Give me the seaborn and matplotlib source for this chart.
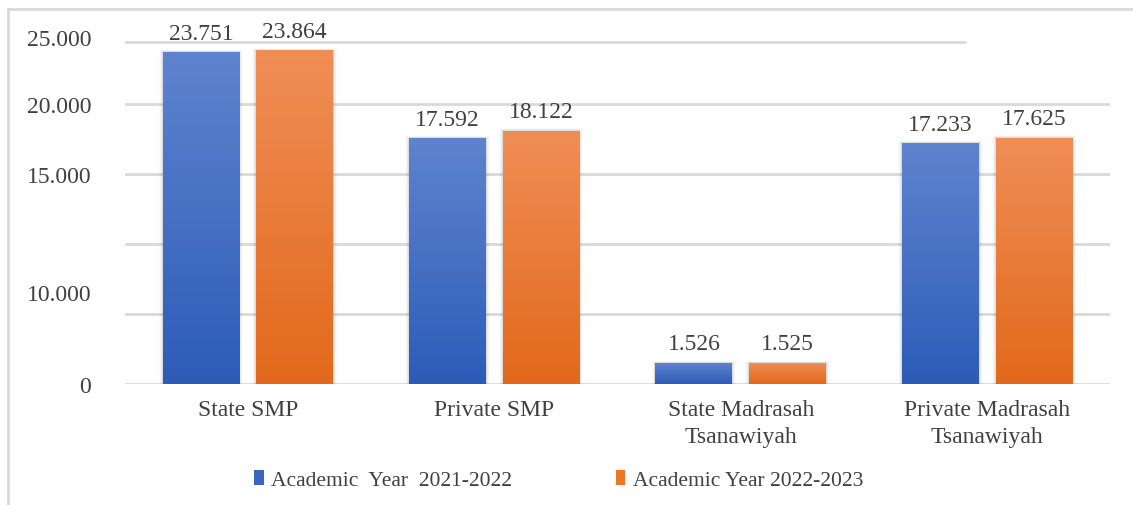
import numpy as np
import pandas as pd
import matplotlib
matplotlib.use("Agg")
import matplotlib.pyplot as plt
import seaborn as sns
from matplotlib.colors import LinearSegmentedColormap
from matplotlib.lines import Line2D
from matplotlib.patches import Patch

# data
categories = ["State SMP", "Private SMP", "State Madrasah\nTsanawiyah", "Private Madrasah\nTsanawiyah"]
series = ["Academic  Year  2021-2022", "Academic Year 2022-2023"]
year_2021 = [23751, 17592, 1526, 17233]
year_2022 = [23864, 18122, 1525, 17625]
value_labels_2021 = ["23.751", "17.592", "1.526", "17.233"]
value_labels_2022 = ["23.864", "18.122", "1.525", "17.625"]

df = pd.DataFrame({
    "category": categories * 2,
    "series": [series[0]] * 4 + [series[1]] * 4,
    "value": year_2021 + year_2022,
})

sns.set_theme(style="white")
plt.rcParams['font.family'] = ['Liberation Serif', 'DejaVu Serif']
text_col = "#404040"

fig = plt.figure(figsize=(11.33, 5.06), dpi=100)
ax = fig.add_axes([0.110, 0.239, 0.870, 0.691])

blue = "#4472C4"
orange = "#ED7D31"
sns.barplot(data=df, x="category", y="value", hue="series", order=categories,
            hue_order=series, palette=[blue, orange], width=0.76, gap=0.18,
            ax=ax, legend=False, zorder=3, linewidth=0, edgecolor="none")

ax.set_ylim(0, 25000)
ax.set_xlim(-0.5, 3.5)

# gradient fills on the bars
grad_maps = [
    LinearSegmentedColormap.from_list("b", ["#2C5CB8", "#5F84CE"]),
    LinearSegmentedColormap.from_list("o", ["#E2691B", "#F08E57"]),
]
grad = np.linspace(0, 1, 256).reshape(-1, 1)
n = len(categories)
for i, bar in enumerate(ax.patches[:2 * n]):
    cmap = grad_maps[i // n]
    x0, y0 = bar.get_x(), bar.get_y()
    w, h = bar.get_width(), bar.get_height()
    # soft shadow
    for k, a in enumerate([0.06, 0.04, 0.025, 0.015]):
        sh = plt.Rectangle((x0 - 0.004 * (k + 1), y0), w + 0.008 * (k + 1), h + 40 * (k + 1),
                           facecolor="black", alpha=a, lw=0, zorder=2)
        ax.add_patch(sh)
    im = ax.imshow(grad, cmap=cmap, origin="lower", aspect="auto",
                   extent=[x0, x0 + w, y0, y0 + h], zorder=3.5)
    im.set_clip_path(bar)

ax.set_xlim(-0.5, 3.5)
ax.set_ylim(0, 25000)

# value labels
for i, bar in enumerate(ax.patches[:2 * n]):
    lab = (value_labels_2021 + value_labels_2022)[i]
    ax.annotate(lab, (bar.get_x() + bar.get_width() / 2, bar.get_height()),
                xytext=(0, 6), textcoords="offset points", ha="center", va="bottom",
                fontsize=17, color=text_col, zorder=5)

# grid lines, the top one is shorter and sits a little low like in the source
for g in [0, 5000, 10000, 15000, 20000]:
    ax.axhline(g, color="#D9D9D9", lw=2, zorder=0)
ax.axhline(24460, xmin=0, xmax=0.853, color="#D9D9D9", lw=2, zorder=0)

# odd tick label placement copied from the source
tick_pos = [0, 6600, 15000, 20000, 24800]
tick_txt = ["0", "10.000", "15.000", "20.000", "25.000"]
ax.set_yticks(tick_pos)
ax.set_yticklabels(tick_txt, fontsize=17, color=text_col)
ax.tick_params(axis="y", which="both", length=0, pad=24)
ax.tick_params(axis="x", length=0, pad=11, labelsize=17, colors=text_col)
for t in ax.get_xticklabels():
    t.set_linespacing(1.35)
ax.set_xlabel("")
ax.set_ylabel("")
for s in ax.spines.values():
    s.set_visible(False)

# legend
handles = [Patch(facecolor="#3A66C0", edgecolor="none"), Patch(facecolor="#EC7727", edgecolor="none")]
fig.legend(handles, series, loc="center", bbox_to_anchor=(0.493, 0.05), ncol=2,
           frameon=False, fontsize=15.5, handlelength=0.45, handleheight=0.75,
           handletextpad=0.35, columnspacing=4.8, labelcolor=text_col)

# outer frame
fig.add_artist(Line2D([8 / 1133, 1], [1 - 10 / 506, 1 - 10 / 506], color="#D9D9D9", lw=2))
fig.add_artist(Line2D([8 / 1133, 8 / 1133], [0, 1 - 10 / 506], color="#D9D9D9", lw=2))

fig.savefig("out.png", dpi=100, facecolor="white")
